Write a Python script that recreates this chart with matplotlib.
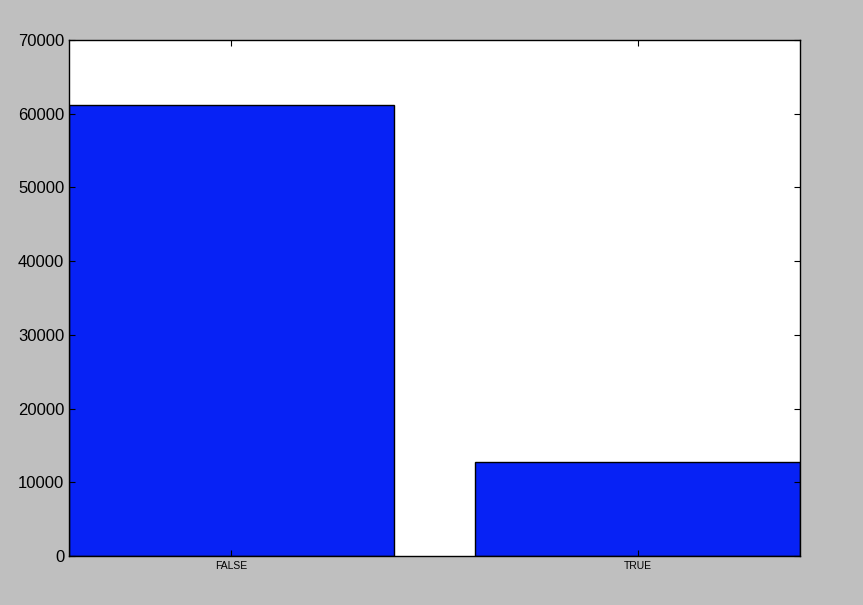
import matplotlib
matplotlib.use("Agg")
import matplotlib.pyplot as plt

plt.rcParams["font.family"] = ["Liberation Sans", "DejaVu Sans"]

# Counts per category
categories = ["FALSE", "TRUE"]
counts = [61150, 12750]

fig = plt.figure(figsize=(8.63, 6.05), dpi=100, facecolor="#bfbfbf")
ax = fig.add_axes([0.08, 0.081, 0.847, 0.853])

positions = list(range(len(categories)))
ax.bar(positions, counts, width=0.8, color="#0722f5", edgecolor="black", linewidth=1)

ax.set_xlim(-0.4, 1.4)
ax.set_ylim(0, 70000)
ax.set_yticks(range(0, 70001, 10000))
ax.set_xticks(positions)
ax.set_xticklabels(categories, fontsize=7.5)
ax.tick_params(axis="y", labelsize=12)
ax.tick_params(direction="in", top=True, right=True, length=4)

for s in ax.spines.values():
    s.set_linewidth(1)

fig.savefig("out.png", dpi=100, facecolor=fig.get_facecolor())
